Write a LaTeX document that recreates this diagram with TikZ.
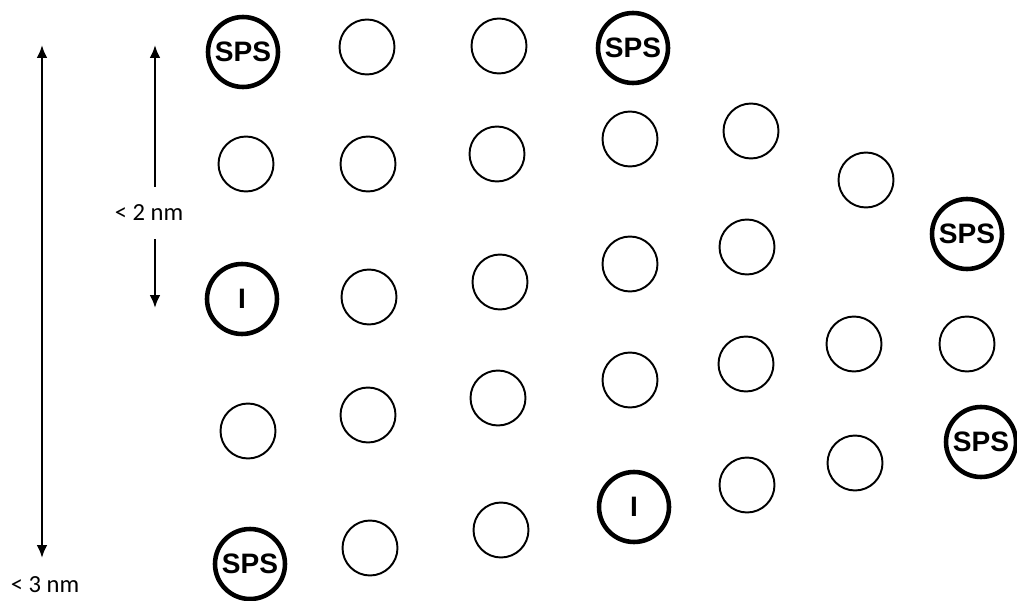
\documentclass[tikz,border=0pt]{standalone}
\usepackage{fontspec}
\setmainfont{Carlito}
\newfontfamily\markfont{Liberation Sans}
\usetikzlibrary{arrows.meta, positioning}

\begin{document}
\begin{tikzpicture}[x=0.02cm, y=-0.02cm, font=\fontsize{14}{15}\selectfont,
  site/.style={circle, draw, line width=1.1pt, minimum size=1.1cm, inner sep=0pt},
  marked/.style={circle, draw, line width=2.6pt, minimum size=1.4cm, inner sep=0pt,
    font=\markfont\bfseries\fontsize{16}{16}\selectfont},
  span/.style={-{Latex[length=2.6mm, width=2.2mm]}, line width=1.6pt}]
  \useasboundingbox (0,0) rectangle (1017,601);
  % Ordinary sites
  \foreach \n/\x/\y in {a2/246/164, a4/248/431,
      b1/367/47, b2/368/164, b3/369/297, b4/368/415, b5/370/548,
      c1/499/46, c2/497/154, c3/500/282, c4/498/398, c5/501/530,
      d2/630/139, d3/630/264, d4/630/380,
      e1/751/131, e2/747/247, e3/746/364, e4/747/485,
      f1/866/180, f2/854/344, f3/855/463, g2/967/344} {
    \node[site] (\n) at (\x,\y) {};
  }
  % SPS and I sites
  \node[marked] (a1) at (243,52) {SPS};
  \node[marked] (a3) at (242,299) {I};
  \node[marked] (a5) at (250,564) {SPS};
  \node[marked] (d1) at (633,48) {SPS};
  \node[marked] (d5) at (634,507) {I};
  \node[marked] (g1) at (967,234) {SPS};
  \node[marked] (g3) at (981,442) {SPS};
  % Short distance
  \node[inner xsep=0pt, inner ysep=0.36cm] (short) at (149,213) {< 2 nm};
  \coordinate (shorttop) at (155,45);
  \coordinate (shortbot) at (155,308);
  \draw[span] (shorttop |- short.north) -- (shorttop);
  \draw[span] (shortbot |- short.south) -- (shortbot);
  % Long distance
  \coordinate (longtop) at (42,45);
  \coordinate (longbot) at (42,558);
  \node[inner sep=0pt] (long) at (45,585) {< 3 nm};
  \draw[span, {Latex[length=2.6mm, width=2.2mm]}-{Latex[length=2.6mm, width=2.2mm]}] (longtop) -- (longbot);
\end{tikzpicture}
\end{document}
